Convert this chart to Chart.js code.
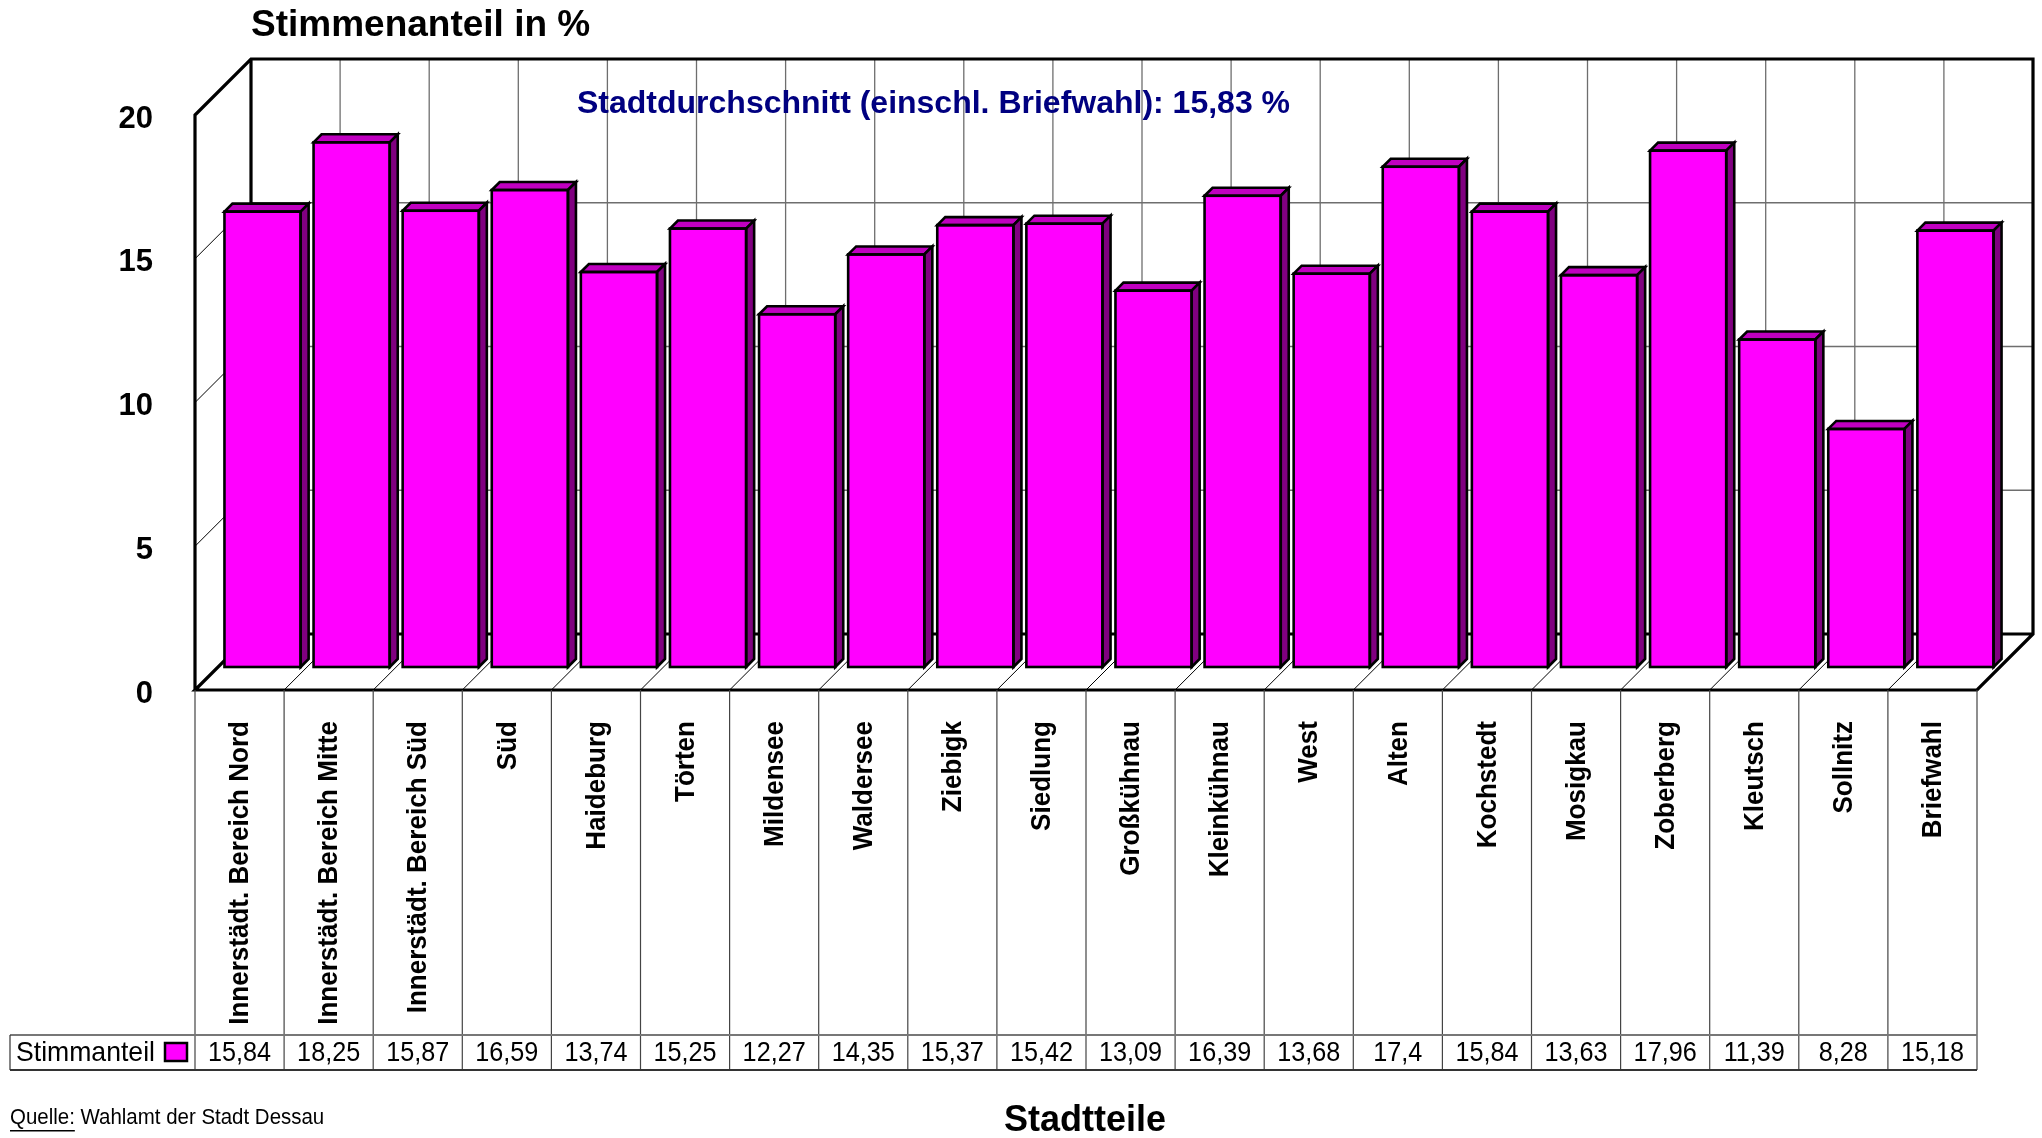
<!DOCTYPE html>
<html>
<head>
<meta charset="utf-8">
<script src="https://cdn.jsdelivr.net/npm/chart.js@4.4.1/dist/chart.umd.min.js"></script>
<style>
  html, body { margin: 0; padding: 0; background: #fff; }
  canvas { display: block; }
</style>
</head>
<body>
<canvas id="chart" width="2042" height="1138"></canvas>
<script>
const categories = ['Innerstädt. Bereich Nord', 'Innerstädt. Bereich Mitte', 'Innerstädt. Bereich Süd', 'Süd',
    'Haideburg', 'Törten', 'Mildensee', 'Waldersee', 'Ziebigk', 'Siedlung', 'Großkühnau', 'Kleinkühnau',
    'West', 'Alten', 'Kochstedt', 'Mosigkau', 'Zoberberg', 'Kleutsch', 'Sollnitz', 'Briefwahl'];
const stimmanteil = [15.84, 18.25, 15.87, 16.59, 13.74, 15.25, 12.27, 14.35, 15.37, 15.42, 13.09, 16.39,
    13.68, 17.4, 15.84, 13.63, 17.96, 11.39, 8.28, 15.18];
const yTicks = [0, 5, 10, 15, 20];
const seriesName = 'Stimmanteil';
const average = '15,83';

const FONT = "'Liberation Sans', Arial, sans-serif";
const FRONT = 23;   // offset of front plane from bar plane
const BACK = 33;    // offset of back wall from bar plane
const BAR_D = 8;    // depth of a single bar

function line(ctx, x1, y1, x2, y2) {
    ctx.beginPath();
    ctx.moveTo(x1, y1);
    ctx.lineTo(x2, y2);
    ctx.stroke();
}

// text squeezed along its baseline, the source chart is rendered a bit narrow
function narrowText(ctx, text, x, y, sx) {
    ctx.save();
    ctx.translate(x, y);
    ctx.scale(sx, 1);
    ctx.fillText(text, 0, 0);
    ctx.restore();
}

function geometry(chart) {
    const x = chart.scales.x, y = chart.scales.y;
    const step = x.getPixelForValue(1) - x.getPixelForValue(0);
    const bound = k => x.getPixelForValue(k) - step / 2;
    return { x, y, step, bound, n: categories.length };
}

const frame3d = {
    id: 'frame3d',
    beforeDatasetsDraw(chart) {
        const ctx = chart.ctx;
        const { y, bound, n } = geometry(chart);
        const yTop = y.getPixelForValue(20), yZero = y.getPixelForValue(0);
        const l = bound(0), r = bound(n);
        ctx.save();

        // back wall grid
        ctx.strokeStyle = '#6e6e6e';
        ctx.lineWidth = 1.3;
        yTicks.forEach(v => {
            const py = y.getPixelForValue(v) - BACK;
            line(ctx, l + BACK, py, r + BACK, py);
        });
        for (let k = 1; k < n; k++) {
            line(ctx, bound(k) + BACK, yTop - BACK, bound(k) + BACK, yZero - BACK);
        }

        // left wall and floor diagonals
        ctx.strokeStyle = '#000';
        ctx.lineWidth = 1;
        yTicks.slice(1, -1).forEach(v => {
            const py = y.getPixelForValue(v);
            line(ctx, l - FRONT, py + FRONT, l + BACK, py - BACK);
        });
        for (let k = 1; k < n; k++) {
            line(ctx, bound(k) - FRONT, yZero + FRONT, bound(k) + BACK, yZero - BACK);
        }

        // heavy frame
        ctx.lineWidth = 3.2;
        ctx.lineJoin = 'miter';
        ctx.beginPath();
        ctx.moveTo(l - FRONT, yZero + FRONT);
        ctx.lineTo(l - FRONT, yTop + FRONT);
        ctx.lineTo(l + BACK, yTop - BACK);
        ctx.lineTo(r + BACK, yTop - BACK);
        ctx.lineTo(r + BACK, yZero - BACK);
        ctx.lineTo(r - FRONT, yZero + FRONT);
        ctx.lineTo(l - FRONT, yZero + FRONT);
        ctx.lineTo(l + BACK, yZero - BACK);
        ctx.lineTo(r + BACK, yZero - BACK);
        ctx.moveTo(l + BACK, yZero - BACK);
        ctx.lineTo(l + BACK, yTop - BACK);
        ctx.stroke();
        ctx.restore();
    },
    afterDatasetsDraw(chart) {
        const ctx = chart.ctx;
        const meta = chart.getDatasetMeta(0);
        ctx.save();
        ctx.strokeStyle = '#000';
        ctx.lineWidth = 2.6;
        ctx.lineJoin = 'miter';
        meta.data.forEach(bar => {
            const p = bar.getProps(['x', 'y', 'base', 'width']);
            const left = p.x - p.width / 2, right = p.x + p.width / 2;
            // top face
            ctx.fillStyle = '#c000c0';
            ctx.beginPath();
            ctx.moveTo(left, p.y);
            ctx.lineTo(left + BAR_D, p.y - BAR_D);
            ctx.lineTo(right + BAR_D, p.y - BAR_D);
            ctx.lineTo(right, p.y);
            ctx.closePath();
            ctx.fill();
            ctx.stroke();
            // side face
            ctx.fillStyle = '#800080';
            ctx.beginPath();
            ctx.moveTo(right, p.y);
            ctx.lineTo(right + BAR_D, p.y - BAR_D);
            ctx.lineTo(right + BAR_D, p.base - BAR_D);
            ctx.lineTo(right, p.base);
            ctx.closePath();
            ctx.fill();
            ctx.stroke();
            // front outline
            ctx.strokeRect(left, p.y, p.width, p.base - p.y);
        });
        ctx.restore();
    },
    afterDraw(chart) {
        const ctx = chart.ctx;
        const { x, y, bound, n } = geometry(chart);
        const yZero = y.getPixelForValue(0);
        const r = bound(n) - FRONT;
        const tableTop = yZero + FRONT, rowTop = 1035, rowBottom = 1070;
        ctx.save();

        // titles
        ctx.fillStyle = '#000';
        ctx.textBaseline = 'middle';
        ctx.textAlign = 'left';
        ctx.font = `bold 37px ${FONT}`;
        ctx.fillText('Stimmenanteil in %', 251, 26);
        ctx.fillStyle = '#000080';
        ctx.font = `bold 32px ${FONT}`;
        ctx.fillText(`Stadtdurchschnitt (einschl. Briefwahl): ${average} %`, 577, 104);

        // y tick labels on the front plane
        ctx.fillStyle = '#000';
        ctx.textAlign = 'right';
        ctx.font = `bold 31px ${FONT}`;
        yTicks.forEach(v => {
            ctx.fillText(String(v), 153, y.getPixelForValue(v) + FRONT + 4);
        });

        // data table grid
        ctx.strokeStyle = '#444';
        ctx.lineWidth = 1.2;
        for (let k = 0; k <= n; k++) {
            const px = bound(k) - FRONT;
            line(ctx, px, tableTop, px, rowBottom);
        }
        ctx.strokeStyle = '#777';
        ctx.lineWidth = 2;
        line(ctx, 10, rowTop, r, rowTop);
        ctx.strokeStyle = '#333';
        line(ctx, 10, rowBottom, r, rowBottom);
        ctx.lineWidth = 1.2;
        line(ctx, 10, rowTop, 10, rowBottom);

        // category labels, rotated
        ctx.fillStyle = '#000';
        ctx.font = `bold 28px ${FONT}`;
        categories.forEach((c, i) => {
            ctx.save();
            ctx.translate(x.getPixelForValue(i) - FRONT + 1, tableTop + 31);
            ctx.rotate(-Math.PI / 2);
            ctx.scale(0.93, 1);
            ctx.textAlign = 'right';
            ctx.textBaseline = 'middle';
            ctx.fillText(c, 0, 0);
            ctx.restore();
        });

        // values row
        const rowMid = (rowTop + rowBottom) / 2 + 1;
        ctx.font = `28px ${FONT}`;
        ctx.textAlign = 'center';
        stimmanteil.forEach((v, i) => {
            narrowText(ctx, String(v).replace('.', ','), x.getPixelForValue(i) - FRONT, rowMid, 0.9);
        });
        ctx.textAlign = 'left';
        narrowText(ctx, seriesName, 16, rowMid, 0.95);
        ctx.fillStyle = '#ff00ff';
        ctx.fillRect(165, 1043, 22, 18);
        ctx.strokeStyle = '#000';
        ctx.lineWidth = 2.5;
        ctx.strokeRect(165, 1043, 22, 18);

        // footer
        ctx.fillStyle = '#000';
        ctx.font = `22px ${FONT}`;
        const qw = ctx.measureText('Quelle:').width * 0.93;
        narrowText(ctx, 'Quelle:', 10, 1118, 0.93);
        ctx.fillRect(10, 1130, qw, 1.5);
        narrowText(ctx, ' Wahlamt der Stadt Dessau', 10 + qw, 1118, 0.93);
        ctx.font = `bold 36px ${FONT}`;
        ctx.textAlign = 'center';
        ctx.fillText('Stadtteile', 1085, 1121);
        ctx.restore();
    }
};

new Chart(document.getElementById('chart'), {
    type: 'bar',
    data: {
        labels: categories,
        datasets: [{
            label: seriesName,
            data: stimmanteil,
            backgroundColor: '#ff00ff',
            borderWidth: 0,
            barPercentage: 0.855,
            categoryPercentage: 1
        }]
    },
    options: {
        responsive: false,
        animation: false,
        devicePixelRatio: 1,
        layout: {
            padding: { left: 218, right: 42, top: 92, bottom: 471 }
        },
        scales: {
            x: { display: false },
            y: { display: false, min: 0, max: 20 }
        },
        plugins: {
            legend: { display: false },
            tooltip: { enabled: false }
        }
    },
    plugins: [frame3d]
});
</script>
</body>
</html>
